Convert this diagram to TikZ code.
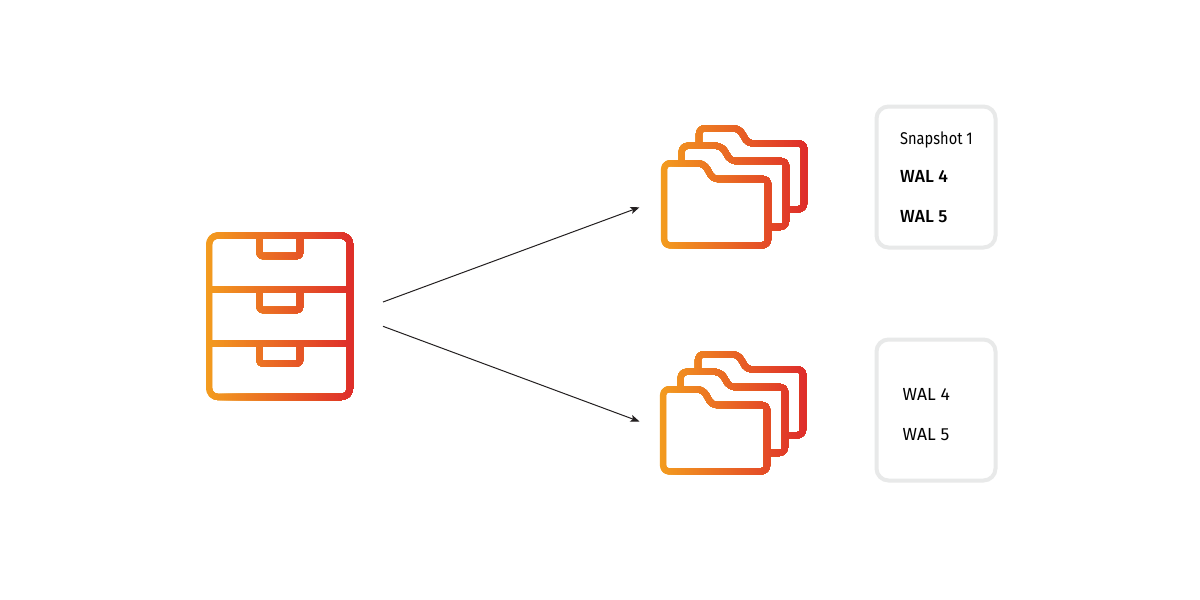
\documentclass[tikz,border=0pt]{standalone}
\usepackage{fontspec}
\setmainfont{Fira Sans}
\newfontfamily\firamed{Fira Sans Medium}
\newfontfamily\firanarrow[FakeStretch=0.86]{Fira Sans}
\usetikzlibrary{arrows.meta}
\definecolor{gradA}{HTML}{F39C1F}
\definecolor{gradB}{HTML}{DE2B2B}
\definecolor{boxline}{HTML}{E8E9E9}
\definecolor{inkline}{HTML}{231F20}
\tikzset{
  iconline/.style={draw=stripcolor,line width=6.2pt,line join=round},
  cardbox/.style={draw=boxline,line width=4pt,rounded corners=12pt,minimum width=119pt,minimum height=141pt,inner sep=0pt,fill=white},
  label/.style={anchor=base west,inner sep=0pt,text=black,font=\fontsize{17.5}{20}\selectfont},
  flowarrow/.style={draw=inkline,line width=1pt,-{Stealth[length=9pt,width=7pt,inset=2pt]}}
}
% #1 x start, #2 x end, #3 drawing commands
\newcommand{\gradicon}[3]{%
  \foreach \stripno in {0,...,74}{%
    \pgfmathsetmacro{\sx}{#1+2*\stripno}%
    \pgfmathsetmacro{\pct}{100-100*(\sx-#1)/(#2-#1)}%
    \colorlet{stripcolor}{gradA!\pct!gradB}%
    \begin{scope}
      \clip (\sx,0) rectangle (1200,600);
      #3
    \end{scope}
  }%
}
\newcommand{\folderset}[2]{%
  \path[iconline,shift={(#1,#2)}]
    (699,146)[rounded corners=6pt]--(699,128.2)--(739,128.2)[rounded corners=4.5pt]--(748,143.5)--(804,143.5)[rounded corners=6pt]--(804,209.3)--(786,209.3);
  \path[iconline,shift={(#1,#2)}]
    (681.7,163)[rounded corners=6pt]--(681.7,145.8)--(721.7,145.8)[rounded corners=4.5pt]--(730.7,161)--(786,161)[rounded corners=6pt]--(786,227)--(768,227);
  \path[iconline,shift={(#1,#2)}]
    (664,245.3)[rounded corners=6pt]--(664,163.3)--(704,163.3)[rounded corners=4.5pt]--(713,179)--(768,179)[rounded corners=6pt]--(768,245.3)--cycle;
}
\begin{document}
\begin{tikzpicture}[x=1pt,y=-1pt]
\useasboundingbox (0,0) rectangle (1200,600);
\fill[white] (0,0) rectangle (1200,600);

% cabinet
\gradicon{206}{354}{%
  \path[iconline,rounded corners=9pt] (209,235.5) rectangle (350,397);
  \path[iconline] (209,289.5)--(350,289.5);
  \path[iconline] (209,343.5)--(350,343.5);
  \path[iconline,rounded corners=3pt] (259.5,235.5)--(259.5,256)--(300,256)--(300,235.5);
  \path[iconline,rounded corners=3pt] (259.5,289.5)--(259.5,310)--(300,310)--(300,289.5);
  \path[iconline,rounded corners=3pt] (259.5,343.5)--(259.5,363.5)--(300,363.5)--(300,343.5);
}

% folders
\gradicon{660}{808}{\folderset{0}{0}}
\gradicon{659}{807}{\folderset{-1}{226}}

% cards
\node[cardbox] (cardA) at (936,177) {};
\node[cardbox] (cardB) at (936,410) {};

\node[label,font=\fontsize{17}{20}\selectfont\firanarrow] (snap) at (900,144.3) {Snapshot 1};
\node[label,font=\fontsize{17.5}{20}\selectfont\firamed] (walA) at (900,182.3) {WAL 4};
\node[label,font=\fontsize{17.5}{20}\selectfont\firamed] (walB) at (900,222.3) {WAL 5};
\node[label] (walC) at (902.5,400) {WAL 4};
\node[label] (walD) at (902.5,440) {WAL 5};

% arrows
\coordinate (srcA) at (383,302);
\coordinate (dstA) at (639.5,207.3);
\coordinate (srcB) at (383,326.3);
\coordinate (dstB) at (639.5,421.5);
\draw[flowarrow] (srcA) -- (dstA);
\draw[flowarrow] (srcB) -- (dstB);
\end{tikzpicture}
\end{document}
